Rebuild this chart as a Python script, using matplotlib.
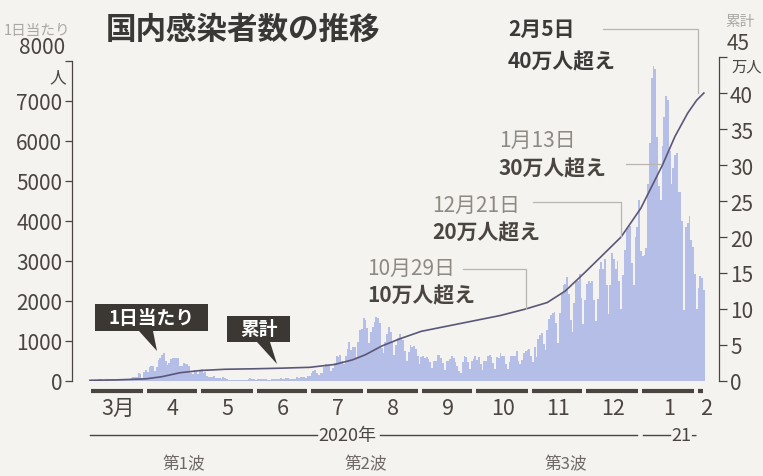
import pandas as pd
import matplotlib.pyplot as plt
from matplotlib.patches import Polygon
from matplotlib.transforms import ScaledTranslation

plt.rcParams['font.family'] = ['Noto Sans CJK JP', 'DejaVu Sans']

# daily new cases (人), 2020-03-01 .. 2021-02-05
mar = [14, 15, 10, 33, 33, 59, 47, 33, 26, 54, 52, 55, 41, 62, 35, 15, 44, 39, 37, 38,
       53, 43, 40, 65, 98, 96, 112, 200, 173, 87, 225]
apr = [266, 235, 353, 367, 383, 252, 351, 515, 576, 644, 700, 507, 391, 457, 549, 587,
       576, 584, 568, 373, 378, 440, 436, 436, 373, 201, 174, 278, 223, 186]
may = [263, 293, 202, 216, 123, 104, 97, 91, 117, 82, 64, 86, 55, 99, 63, 40, 14, 31,
       31, 34, 36, 31, 26, 23, 21, 30, 37, 51, 68, 45, 49]
jun = [37, 42, 52, 45, 47, 40, 46, 19, 37, 38, 43, 61, 56, 47, 72, 43, 42, 67, 68, 58,
       57, 42, 52, 96, 77, 105, 102, 89, 86, 130]
jul = [125, 194, 250, 274, 208, 161, 207, 207, 355, 430, 385, 408, 257, 333, 451, 622,
       590, 661, 509, 420, 631, 795, 981, 768, 839, 839, 597, 981, 1264, 1300, 1580]
aug = [1536, 1331, 959, 1237, 1357, 1485, 1595, 1565, 1442, 826, 700, 985, 1176, 1360,
       1227, 1011, 652, 905, 1071, 1185, 1038, 1014, 738, 496, 722, 908, 839, 871, 795,
       621, 431]
sep = [591, 625, 584, 598, 539, 469, 316, 510, 502, 651, 643, 581, 438, 270, 497, 508,
       557, 625, 563, 480, 372, 251, 190, 479, 616, 596, 477, 296, 489, 552]
oct_ = [633, 527, 611, 418, 276, 503, 500, 614, 645, 598, 440, 291, 600, 565, 700, 622,
        622, 425, 311, 479, 623, 621, 636, 760, 511, 414, 526, 707, 758, 767, 810]
nov = [613, 487, 858, 609, 1046, 1138, 1210, 928, 767, 1281, 1543, 1660, 1704, 1736,
       1440, 954, 1698, 2202, 2388, 2424, 2596, 2168, 1520, 1227, 1941, 2504, 2508,
       2684, 2067, 1427]
dec = [2026, 2433, 2510, 2444, 2508, 2027, 1505, 2039, 2810, 2972, 2788, 3041, 2388,
       1681, 2408, 3211, 3041, 2805, 2992, 2494, 1808, 2656, 3271, 3740, 3823, 3881,
       2946, 2395, 3604, 3852, 4520]
jan = [3243, 3137, 3158, 3326, 4925, 5946, 7570, 7882, 7790, 6094, 4876, 4537, 5873,
       6604, 7133, 7014, 5759, 4925, 5320, 5654, 5701, 4714, 4717, 3990, 1785, 3853,
       3962, 4128, 3518, 3344, 2676]
feb = [1792, 2321, 2631, 2575, 2281]
daily = mar + apr + may + jun + jul + aug + sep + oct_ + nov + dec + jan + feb

# cumulative (万人)
cum_dates = ['2020-03-01', '2020-03-15', '2020-04-01', '2020-04-10', '2020-04-20',
             '2020-05-01', '2020-05-15', '2020-06-01', '2020-06-15', '2020-07-01',
             '2020-07-15', '2020-07-25', '2020-08-01', '2020-08-10', '2020-08-20',
             '2020-09-01', '2020-09-15', '2020-10-01', '2020-10-15', '2020-10-29',
             '2020-11-10', '2020-11-20', '2020-12-01', '2020-12-10', '2020-12-21',
             '2021-01-01', '2021-01-08', '2021-01-13', '2021-01-20', '2021-01-27',
             '2021-02-01', '2021-02-05']
cum_vals = [0.10, 0.15, 0.30, 0.60, 1.15, 1.45, 1.63, 1.70, 1.78, 1.90, 2.30, 2.95, 3.65,
            4.85, 5.85, 6.90, 7.60, 8.40, 9.10, 10.0, 10.9, 12.5, 15.1, 17.3, 20.0, 24.0,
            27.5, 30.0, 34.0, 37.2, 39.0, 40.0]

# milestones
ms_dates = ['2020-10-29', '2020-12-21', '2021-01-13', '2021-02-05']
ms_titles = ['10月29日', '12月21日', '1月13日', '2月5日']
ms_texts = ['10万人超え', '20万人超え', '30万人超え', '40万人超え']
ms_vals = [10, 20, 30, 40]

month_labels = ['3月', '4', '5', '6', '7', '8', '9', '10', '11', '12', '1', '2']
wave_labels = ['第1波', '第2波', '第3波']

W, H = 763, 477
BG = '#f4f3ef'
BAR = '#b5bee7'
LINE = '#5b5778'
INK = '#4a4540'
GRAY = '#8e8983'
LEAD = '#b9b6b0'


def fx(px):
    return px / W


def fy(py):
    return 1 - py / H


fig = plt.figure(figsize=(W / 100, H / 100), dpi=100, facecolor=BG)
ax = fig.add_axes([fx(72), fy(382), (719 - 72) / W, 324 / H])
ax.set_facecolor(BG)
ax2 = ax.twinx()

days = pd.date_range('2020-03-01', periods=len(daily), freq='D')
ax.bar(days, daily, width=1.0, color=BAR, linewidth=0)
ax2.plot(pd.to_datetime(cum_dates), cum_vals, color=LINE, lw=1.2)

start = pd.Timestamp('2020-03-01')
ax.set_xlim(start - pd.Timedelta(days=10), start + pd.Timedelta(days=349.4))
ax.set_ylim(0, 8100)
ax2.set_ylim(0, 45)

for a in (ax, ax2):
    for s in ('top', 'bottom'):
        a.spines[s].set_visible(False)
ax2.spines['left'].set_visible(False)
ax.spines['right'].set_visible(False)
ax.spines['left'].set_bounds(0, 8000)
ax2.spines['right'].set_bounds(0, 45)
for sp in (ax.spines['left'], ax2.spines['right']):
    sp.set_color(INK)
    sp.set_linewidth(0.9)
ax.set_xticks([])

ax.set_yticks(range(0, 8001, 1000))
ax.set_yticklabels([str(v) for v in range(0, 8000, 1000)] + [''])
ax2.set_yticks(range(0, 46, 5))
ax2.set_yticklabels([str(v) for v in range(0, 45, 5)] + [''])
ax.tick_params(axis='y', length=5, width=0.9, color=INK, labelcolor=INK,
               labelsize=15, pad=2)
ax2.tick_params(axis='y', length=6, width=0.9, color=INK, labelcolor=INK,
                labelsize=15, pad=2)

# top tick labels lifted above the ticks
up = ScaledTranslation(0, 10 / 72, fig.dpi_scale_trans)
ax.text(-0.0105, 8000, '8000', transform=ax.get_yaxis_transform() + up,
        ha='right', va='center', fontsize=15, color=INK)
ax2.text(1.0125, 45, '45', transform=ax2.get_yaxis_transform() + up,
         ha='left', va='center', fontsize=15, color=INK)
fig.text(fx(58), fy(78), '人', ha='center', va='center', fontsize=12, color=INK)
fig.text(fx(747), fy(67), '万人', ha='center', va='center', fontsize=11, color=INK)
fig.text(fx(4), fy(31), '1日当たり', ha='left', va='center', fontsize=10.5, color='#aaa7a2')
fig.text(fx(740), fy(22), '累計', ha='center', va='center', fontsize=10.5, color='#aaa7a2')

fig.text(fx(106), fy(30), '国内感染者数の推移', ha='left', va='center',
         fontsize=22, fontweight='bold', color='#3a3836')

# month bars and labels under the axis
bx = ax.get_xaxis_transform()
months = pd.date_range('2020-03-01', '2021-02-01', freq='MS')
for i, m in enumerate(months):
    if i < len(months) - 1:
        end = months[i + 1]
        mid = m + (end - m) / 2
    else:
        end = pd.Timestamp('2021-02-06')
        mid = pd.Timestamp('2021-02-06')
    ax.plot([m + pd.Timedelta(days=0.6), end - pd.Timedelta(days=1.6)], [-0.031, -0.031],
            transform=bx, clip_on=False, color=INK, lw=3, solid_capstyle='butt')
    ax.text(mid, -0.082, month_labels[i], transform=bx, ha='center', va='center',
            fontsize=15.5, color=INK)

# year row
yr = -0.167
for a, b in [('2020-03-01', '2020-07-05'), ('2020-08-09', '2020-12-30'),
             ('2021-01-02', '2021-01-17')]:
    ax.plot([pd.Timestamp(a), pd.Timestamp(b)], [yr, yr], transform=bx, clip_on=False,
            color=INK, lw=1)
ax.text(pd.Timestamp('2020-07-22'), yr, '2020年', transform=bx, ha='center', va='center',
        fontsize=13, color=INK)
ax.text(pd.Timestamp('2021-01-18'), yr, '21-', transform=bx, ha='left', va='center',
        fontsize=13, color=INK)

for lab, d in zip(wave_labels, ['2020-04-22', '2020-08-01', '2020-11-20']):
    ax.text(pd.Timestamp(d), -0.256, lab, transform=bx, ha='center', va='center',
            fontsize=12, color='#6e6964')

# milestone labels and leader lines
title_y = [269, 206, 141, 29]
text_y = [296, 233, 169, 62]
text_x = [367, 432, 499, 508]
lead_y = [15.6, 24.9, 30.1, 48.9]
lead_from = ['2020-09-24', '2020-11-02', '2020-12-24', '2020-12-11']
lead_to = ['2020-10-29', '2020-12-21', '2021-01-12', '2021-02-02']
for i in range(4):
    dark = i == 3
    fig.text(fx(text_x[i]), fy(title_y[i]), ms_titles[i], ha='left', va='center',
             fontsize=15, color='#3c3a38' if dark else GRAY,
             fontweight='bold' if dark else 'normal')
    fig.text(fx(text_x[i]), fy(text_y[i]), ms_texts[i], ha='left', va='center',
             fontsize=15, color='#3c3a38' if dark else INK, fontweight='bold')
    x0, x1 = pd.Timestamp(lead_from[i]), pd.Timestamp(lead_to[i])
    if i == 2:
        ax2.plot([x0, x1], [lead_y[i], lead_y[i]], color=LEAD, lw=0.9, clip_on=False)
    else:
        ax2.plot([x0, x1, x1], [lead_y[i], lead_y[i], ms_vals[i]], color=LEAD, lw=0.9,
                 clip_on=False)

# callout boxes
BOX = '#3b3733'
for txt, (x0, x1, y0, y1), tri in [
        ('1日当たり', (95, 208, 305, 332), [(139, 332), (153, 332), (157, 352)]),
        ('累計', (227, 290, 317, 343), [(257, 343), (270, 343), (277, 365)])]:
    fig.patches.append(Polygon([(fx(x0), fy(y0)), (fx(x1), fy(y0)), (fx(x1), fy(y1)),
                                (fx(x0), fy(y1))], closed=True, transform=fig.transFigure,
                               facecolor=BOX, edgecolor='none', zorder=5))
    fig.patches.append(Polygon([(fx(a), fy(b)) for a, b in tri], closed=True,
                               transform=fig.transFigure, facecolor=BOX,
                               edgecolor='none', zorder=5))
    fig.text(fx((x0 + x1) / 2), fy((y0 + y1) / 2), txt, ha='center', va='center',
             fontsize=13.5, fontweight='bold', color='white', zorder=6)

fig.savefig('out.png', dpi=100, facecolor=BG)
